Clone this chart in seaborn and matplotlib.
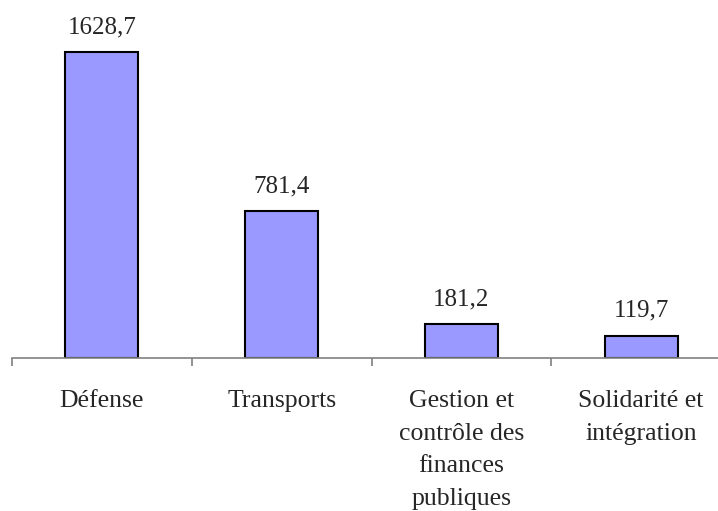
import matplotlib
matplotlib.use("Agg")
import matplotlib.pyplot as plt
import seaborn as sns

# Data
categories = ["Défense", "Transports",
              "Gestion et\ncontrôle des\nfinances\npubliques",
              "Solidarité et\nintégration"]
values = [1628.7, 781.4, 181.2, 119.7]
value_labels = ["1628,7", "781,4", "181,2", "119,7"]

sns.set_style("white")
plt.rcParams['font.family'] = ['Liberation Serif', 'DejaVu Serif']

W, H = 718, 511
fig = plt.figure(figsize=(W / 100, H / 100), dpi=100)

# axis line at y=358px, category pitch ~180px starting at x=12
ymax = 1800
px_per_unit = 306 / 1628.7
ax = fig.add_axes([12 / W, (H - 358) / H, 719 / W, ymax * px_per_unit / H])

sns.barplot(x=categories, y=values, color="#9999FF", saturation=1,
            width=0.405, edgecolor="black", linewidth=1.5, ax=ax)

ax.set_xlim(-0.5, 3.5)
ax.set_ylim(0, ymax)

for i, (v, lab) in enumerate(zip(values, value_labels)):
    ax.annotate(lab, (i, v), xytext=(0, 10), textcoords="offset points",
                ha="center", va="bottom", fontsize=18)

for s in ["top", "right", "left"]:
    ax.spines[s].set_visible(False)
ax.spines["bottom"].set_color("#808080")
ax.spines["bottom"].set_linewidth(1.2)
ax.set_yticks([])

# ticks at category boundaries, labels at centres
ax.set_xticks([-0.5, 0.5, 1.5, 2.5, 3.5])
ax.set_xticklabels([])
ax.tick_params(axis="x", which="major", direction="out", length=6,
               width=1.2, color="#808080", bottom=True)
ax.set_xticks(range(len(categories)), minor=True)
ax.set_xticklabels(categories, minor=True, fontsize=18.5, linespacing=1.63)
ax.tick_params(axis="x", which="minor", length=0, pad=23)
ax.set_xlabel("")
ax.set_ylabel("")

fig.savefig("out.png", dpi=100)
